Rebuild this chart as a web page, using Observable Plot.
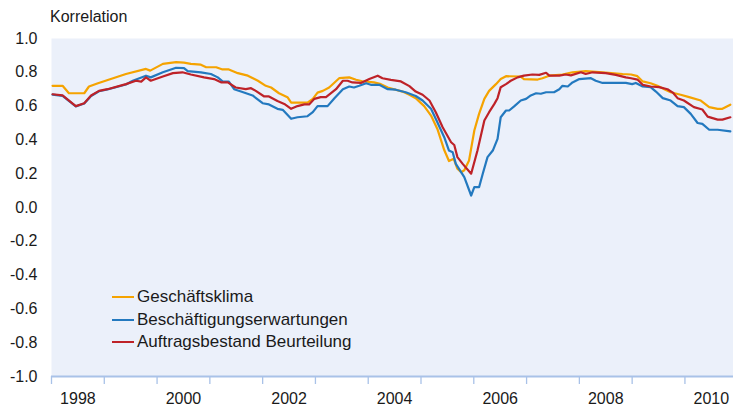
<!DOCTYPE html>
<html><head><meta charset="utf-8">
<script src="https://cdn.jsdelivr.net/npm/d3@7"></script>
<script src="https://cdn.jsdelivr.net/npm/@observablehq/plot@0.6"></script>
<style>
body{margin:0;background:#fff;font-family:"Liberation Sans",Arial,sans-serif;}
#wrap{position:relative;width:733px;height:408px;}
#title{position:absolute;left:50px;top:8px;font-size:16px;color:#1a1a1a;}
#legend{position:absolute;left:112px;top:286px;font-size:17px;color:#1a1a1a;}
.item{display:flex;align-items:center;height:22.5px;}
.sw{width:22px;height:2px;margin-right:3px;}
</style></head>
<body>
<div id="wrap"><div id="title">Korrelation</div><div id="legend"></div></div>
<script>
const seriesNames = ["Geschäftsklima", "Beschäftigungserwartungen", "Auftragsbestand Beurteilung"];
const seriesColors = ["#F5A300", "#2379BF", "#BE2228"];
const yTicks = [-1, -0.8, -0.6, -0.4, -0.2, 0, 0.2, 0.4, 0.6, 0.8, 1];
const yearTicks = [1998,1999,2000,2001,2002,2003,2004,2005,2006,2007,2008,2009,2010];
const yearLabels = [1998, 2000, 2002, 2004, 2006, 2008, 2010];

const klimaT = [1998.02,1998.21,1998.33,1998.62,1998.71,1998.88,1999.41,1999.79,1999.87,2000.11,2000.36,2000.51,2000.64,2000.83,2000.93,2001.12,2001.24,2001.36,2001.53,2001.72,2001.91,2002.06,2002.16,2002.31,2002.47,2002.54,2002.85,2002.95,2003.04,2003.14,2003.26,2003.45,2003.64,2003.77,2003.89,2004.11,2004.24,2004.37,2004.65,2004.78,2004.9,2005.06,2005.19,2005.31,2005.44,2005.53,2005.62,2005.69,2005.76,2005.82,2005.91,2006.01,2006.1,2006.2,2006.29,2006.42,2006.51,2006.61,2006.89,2006.95,2007.21,2007.3,2007.43,2007.68,2007.87,2008.12,2008.44,2008.82,2008.98,2009.1,2009.2,2009.35,2009.48,2009.61,2009.73,2009.92,2010.08,2010.3,2010.46,2010.62,2010.71,2010.86];
const klimaV = [0.72,0.72,0.676,0.676,0.716,0.735,0.79,0.82,0.81,0.85,0.86,0.857,0.85,0.845,0.83,0.83,0.817,0.817,0.795,0.78,0.75,0.72,0.71,0.676,0.653,0.62,0.62,0.643,0.68,0.69,0.71,0.765,0.77,0.756,0.747,0.74,0.73,0.71,0.686,0.667,0.647,0.60,0.544,0.465,0.34,0.275,0.288,0.229,0.209,0.22,0.278,0.456,0.554,0.643,0.69,0.73,0.76,0.777,0.775,0.76,0.757,0.765,0.78,0.787,0.80,0.807,0.80,0.79,0.787,0.777,0.746,0.735,0.72,0.70,0.682,0.667,0.653,0.633,0.594,0.584,0.584,0.608];

const beschT = [1998.02,1998.21,1998.46,1998.62,1998.75,1998.9,1999.06,1999.41,1999.54,1999.79,1999.88,2000.11,2000.36,2000.51,2000.58,2000.83,2001.02,2001.15,2001.24,2001.36,2001.46,2001.59,2001.81,2002.0,2002.12,2002.28,2002.38,2002.54,2002.66,2002.85,2002.95,2003.04,2003.23,2003.36,2003.52,2003.64,2003.73,2003.83,2003.96,2004.05,2004.21,2004.37,2004.52,2004.71,2004.9,2005.03,2005.19,2005.31,2005.44,2005.53,2005.6,2005.66,2005.82,2005.95,2006.01,2006.1,2006.17,2006.26,2006.36,2006.45,2006.51,2006.61,2006.67,2006.77,2006.89,2006.99,2007.08,2007.18,2007.27,2007.37,2007.52,2007.62,2007.68,2007.78,2007.87,2008.0,2008.22,2008.31,2008.44,2008.69,2008.88,2009.0,2009.07,2009.2,2009.35,2009.45,2009.58,2009.73,2009.86,2009.98,2010.11,2010.24,2010.33,2010.46,2010.62,2010.86];
const beschV = [0.668,0.66,0.598,0.615,0.66,0.688,0.698,0.728,0.75,0.78,0.77,0.80,0.827,0.825,0.807,0.80,0.79,0.77,0.747,0.745,0.70,0.686,0.663,0.617,0.61,0.584,0.578,0.525,0.534,0.54,0.564,0.60,0.60,0.647,0.70,0.716,0.71,0.72,0.735,0.726,0.726,0.70,0.697,0.682,0.66,0.633,0.584,0.505,0.416,0.337,0.327,0.258,0.18,0.071,0.12,0.12,0.20,0.298,0.337,0.406,0.534,0.574,0.574,0.60,0.633,0.643,0.663,0.676,0.673,0.682,0.682,0.70,0.72,0.716,0.74,0.76,0.765,0.75,0.737,0.737,0.737,0.73,0.737,0.716,0.712,0.686,0.647,0.633,0.60,0.594,0.554,0.50,0.495,0.46,0.46,0.45];

const auftragT = [1998.02,1998.21,1998.46,1998.62,1998.75,1998.9,1999.06,1999.41,1999.6,1999.7,1999.79,1999.88,2000.11,2000.3,2000.48,2000.64,2000.89,2001.08,2001.22,2001.34,2001.49,2001.68,2001.78,2001.87,2002.03,2002.12,2002.28,2002.41,2002.54,2002.66,2002.79,2002.88,2002.98,2003.1,2003.2,2003.39,2003.52,2003.61,2003.7,2003.86,2004.02,2004.18,2004.27,2004.43,2004.62,2004.78,2004.9,2005.03,2005.16,2005.28,2005.41,2005.57,2005.63,2005.69,2005.79,2005.95,2006.07,2006.2,2006.29,2006.39,2006.45,2006.51,2006.61,2006.7,2006.83,2006.95,2007.11,2007.24,2007.37,2007.43,2007.62,2007.74,2007.84,2008.03,2008.12,2008.25,2008.5,2008.69,2008.88,2008.98,2009.1,2009.2,2009.35,2009.51,2009.67,2009.77,2009.86,2009.98,2010.17,2010.33,2010.43,2010.62,2010.71,2010.86];
const auftragV = [0.67,0.663,0.60,0.617,0.663,0.69,0.70,0.73,0.75,0.745,0.77,0.75,0.775,0.795,0.80,0.787,0.77,0.76,0.74,0.74,0.71,0.70,0.706,0.69,0.657,0.657,0.63,0.613,0.584,0.60,0.61,0.61,0.643,0.653,0.653,0.70,0.75,0.75,0.74,0.737,0.76,0.78,0.765,0.755,0.746,0.718,0.686,0.667,0.633,0.564,0.475,0.386,0.37,0.298,0.258,0.20,0.337,0.515,0.564,0.613,0.647,0.712,0.73,0.75,0.77,0.78,0.787,0.785,0.797,0.78,0.78,0.787,0.782,0.80,0.79,0.80,0.795,0.785,0.77,0.765,0.757,0.726,0.716,0.712,0.70,0.68,0.647,0.633,0.594,0.58,0.538,0.52,0.52,0.534];

const rows = [];
[[klimaT, klimaV], [beschT, beschV], [auftragT, auftragV]].forEach(([ts, vs], i) => {
  ts.forEach((t, j) => rows.push({series: seriesNames[i], t, v: vs[j]}));
});

const chart = Plot.plot({
  width: 733, height: 408,
  marginLeft: 51, marginRight: 0, marginTop: 38, marginBottom: 32,
  style: {fontFamily: '"Liberation Sans", Arial, sans-serif', fontSize: "16px", color: "#1a1a1a", background: "transparent"},
  x: {domain: [1998, 2010.92]},
  y: {domain: [-1, 1]},
  color: {domain: seriesNames, range: seriesColors},
  marks: [
    Plot.frame({fill: "#EBF0FA", stroke: "none"}),
    Plot.axisY({ticks: yTicks, tickSize: 0, tickPadding: 14, tickFormat: d => d.toFixed(1), label: null, fontSize: 16}),
    Plot.axisX({ticks: yearTicks, tickSize: 8, stroke: "#A9C2E8", strokeWidth: 1.3, tickFormat: () => "", label: null}),
    Plot.axisX({ticks: yearLabels.map(y => y + 0.5), tickSize: 0, tickPadding: 16, tickFormat: d => String(Math.floor(d)), label: null, fontSize: 16}),
    Plot.ruleY([-1], {stroke: "#A9C2E8", strokeWidth: 2}),
    Plot.line(rows, {x: "t", y: "v", z: "series", stroke: "series", strokeWidth: 2.2, curve: "linear"})
  ]
});
document.getElementById("wrap").prepend(chart);
chart.style.position = "absolute"; chart.style.left = "0"; chart.style.top = "0";

const legend = document.getElementById("legend");
seriesNames.forEach((n, i) => {
  const it = document.createElement("div"); it.className = "item";
  const sw = document.createElement("span"); sw.className = "sw"; sw.style.background = seriesColors[i];
  const tx = document.createElement("span"); tx.textContent = n;
  it.append(sw, tx); legend.append(it);
});
</script>
</body></html>
